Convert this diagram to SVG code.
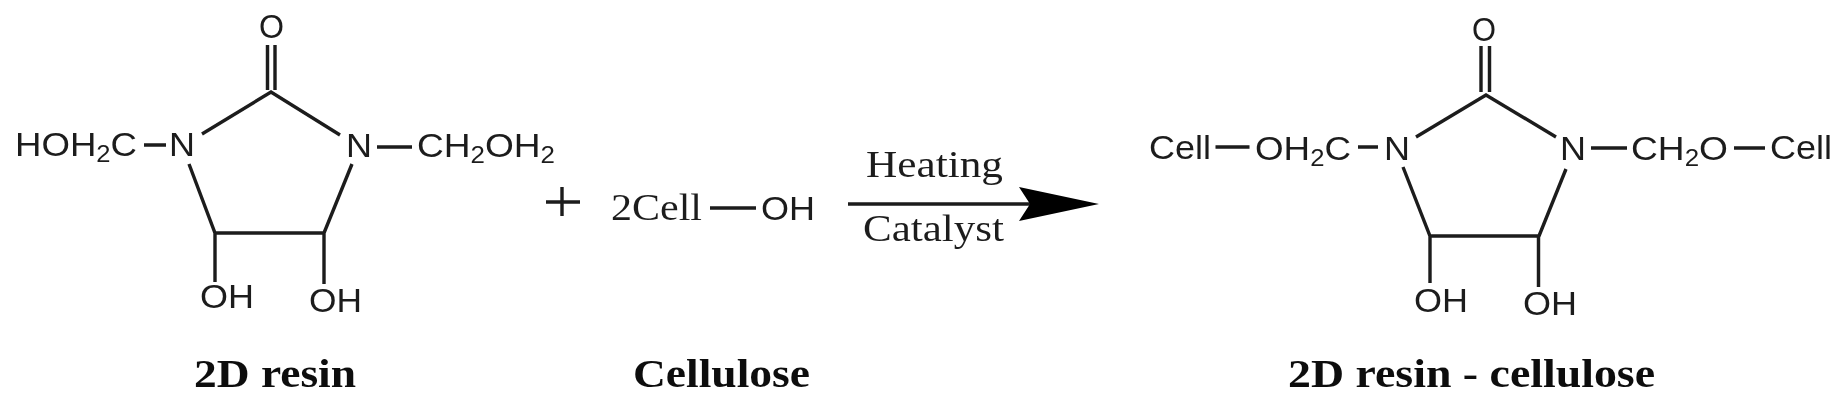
<svg xmlns="http://www.w3.org/2000/svg" width="1847" height="405" viewBox="0 0 1847 405">
<style>
.b{stroke:#1c1c1c;stroke-width:3.400;fill:none;stroke-linecap:butt}
.s{font-family:"Liberation Sans",Arial,sans-serif;font-size:33px;fill:#1c1c1c}
.t{font-family:"Liberation Serif","Times New Roman",serif;font-size:38px;fill:#1c1c1c}
.h{font-family:"Liberation Serif","Times New Roman",serif;font-size:41px;font-weight:bold;fill:#111}
.sub{font-size:23px}
</style>
<defs><filter id="soft" x="0" y="0" width="100%" height="100%"><feGaussianBlur stdDeviation="0.55"/></filter></defs>
<rect width="1847" height="405" fill="#fff"/>
<g filter="url(#soft)">
<g id="connectors">
<path class="b" d="M267.500 45V90M275 45V90M202 134L271 92L340 135M189 164L215 233H324L352 164M215 233V282M324 233V284"/>
<path class="b" d="M144 145H166M377 147H412" />
<path class="b" d="M546 202H580M562 187V216"/>
<path class="b" d="M710 208H756"/>
<path class="b" d="M848 204H1035"/>
<path d="M1019 187L1099 204L1019 221L1030 204Z" fill="#000"/>
<path class="b" d="M1481 46V92M1489.500 46V92M1416 137L1486 95L1556 137M1403 167L1430 236H1539L1566 169M1430 236V283M1538.500 236V287"/>
<path class="b" d="M1215.500 147H1249.500M1358 147H1378M1591 148H1627M1734 148H1765"/>
</g>
<g id="resin">
<text class="s" x="259" y="38" textLength="25" lengthAdjust="spacingAndGlyphs">O</text>
<text class="s" x="15" y="156" textLength="122" lengthAdjust="spacingAndGlyphs">HOH<tspan class="sub" dy="6">2</tspan><tspan dy="-6">C</tspan></text>
<text class="s" x="169" y="156" textLength="26" lengthAdjust="spacingAndGlyphs">N</text>
<text class="s" x="346" y="157" textLength="26" lengthAdjust="spacingAndGlyphs">N</text>
<text class="s" x="417" y="157" textLength="138" lengthAdjust="spacingAndGlyphs">CH<tspan class="sub" dy="6">2</tspan><tspan dy="-6">OH</tspan><tspan class="sub" dy="6">2</tspan></text>
<text class="s" x="200" y="308" textLength="54" lengthAdjust="spacingAndGlyphs">OH</text>
<text class="s" x="309" y="312" textLength="53" lengthAdjust="spacingAndGlyphs">OH</text>
<text class="h" x="194" y="387" textLength="162" lengthAdjust="spacingAndGlyphs">2D resin</text>
</g>
<g id="cellulose">
<text class="t" x="611" y="220" textLength="91" lengthAdjust="spacingAndGlyphs">2Cell</text>
<text class="s" x="761" y="220" textLength="54" lengthAdjust="spacingAndGlyphs">OH</text>
<text class="h" x="633" y="387" textLength="177" lengthAdjust="spacingAndGlyphs">Cellulose</text>
</g>
<g id="conditions">
<text class="t" x="866" y="177" textLength="137" lengthAdjust="spacingAndGlyphs">Heating</text>
<text class="t" x="863" y="241" textLength="141" lengthAdjust="spacingAndGlyphs">Catalyst</text>
</g>
<g id="product">
<text class="s" x="1472" y="41" textLength="24" lengthAdjust="spacingAndGlyphs">O</text>
<text class="s" x="1149" y="159" textLength="62" lengthAdjust="spacingAndGlyphs">Cell</text>
<text class="s" x="1255" y="160" textLength="96" lengthAdjust="spacingAndGlyphs">OH<tspan class="sub" dy="6">2</tspan><tspan dy="-6">C</tspan></text>
<text class="s" x="1384" y="160" textLength="26" lengthAdjust="spacingAndGlyphs">N</text>
<text class="s" x="1560" y="160" textLength="26" lengthAdjust="spacingAndGlyphs">N</text>
<text class="s" x="1631" y="160" textLength="97" lengthAdjust="spacingAndGlyphs">CH<tspan class="sub" dy="6">2</tspan><tspan dy="-6">O</tspan></text>
<text class="s" x="1770" y="159" textLength="62" lengthAdjust="spacingAndGlyphs">Cell</text>
<text class="s" x="1414" y="312" textLength="54" lengthAdjust="spacingAndGlyphs">OH</text>
<text class="s" x="1523" y="315" textLength="54" lengthAdjust="spacingAndGlyphs">OH</text>
<text class="h" x="1288" y="387" textLength="367" lengthAdjust="spacingAndGlyphs">2D resin - cellulose</text>
</g>
</g>
</svg>
